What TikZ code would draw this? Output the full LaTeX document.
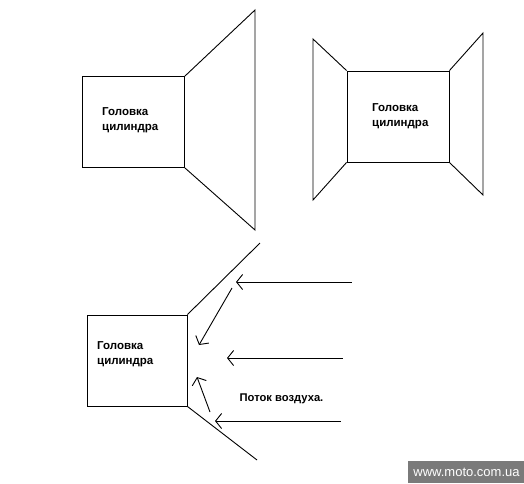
\documentclass[tikz,border=0pt]{standalone}
\usepackage{fontspec}
\setmainfont{Liberation Sans}
\usetikzlibrary{arrows.meta, positioning}
\definecolor{markgray}{HTML}{7A7A7A}
\tikzset{
    headbox/.style={
        rectangle, draw=black, line width=0.9pt, minimum width=102pt, minimum height=91pt
    },
    headtext/.style={
        font=\fontsize{11.5}{14.5}\selectfont\bfseries, align=left, anchor=west, inner sep=0pt
    },
    wall/.style={
        draw=black, line width=0.9pt
    },
    flow/.style={
        {Straight Barb[length=6pt, width=15pt]}-, line width=0.9pt
    }
}

\begin{document}
\begin{tikzpicture}[x=1pt, y=-1pt]
    \useasboundingbox (0,0) rectangle (524,483);

    % upper left: head with a widening cowl
    \node[headbox] (h1) at (133.5,122) {};
    \node[headtext] (t1) at (102,120) {Головка\\цилиндра};
    \coordinate (c1a) at (255,10);
    \coordinate (c1b) at (255,230);
    \draw[wall] (h1.north east) -- (c1a) -- (c1b) -- (h1.south east);

    % upper right: head between two cowls
    \node[headbox] (h2) at (398,116.5) {};
    \node[headtext] (t2) at (372,116) {Головка\\цилиндра};
    \coordinate (c2a) at (313,39);
    \coordinate (c2b) at (313,200);
    \coordinate (c2c) at (483,33);
    \coordinate (c2d) at (483,195);
    \draw[wall] (h2.north west) -- (c2a) -- (c2b) -- (h2.south west);
    \draw[wall] (h2.north east) -- (c2c) -- (c2d) -- (h2.south east);

    % lower: head in the air stream
    \node[headbox, minimum width=100pt] (h3) at (137,360.5) {};
    \node[headtext] (t3) at (97,354) {Головка\\цилиндра};
    \coordinate (c3a) at (260,243);
    \coordinate (c3b) at (257,460);
    \draw[wall] (h3.north east) -- (c3a);
    \draw[wall] (h3.south east) -- (c3b);

    \coordinate (a1s) at (352,282);  \coordinate (a1e) at (236,282);
    \coordinate (a2s) at (232,288);  \coordinate (a2e) at (199,345);
    \coordinate (a3s) at (343,358);  \coordinate (a3e) at (227,358);
    \coordinate (a4s) at (210,412);  \coordinate (a4e) at (197,377);
    \coordinate (a5s) at (341,421);  \coordinate (a5e) at (215,421);
    \draw[flow] (a1e) -- (a1s);
    \draw[flow] (a2e) -- (a2s);
    \draw[flow] (a3e) -- (a3s);
    \draw[flow] (a4e) -- (a4s);
    \draw[flow] (a5e) -- (a5s);

    \node[font=\fontsize{11.2}{13}\selectfont\bfseries] (air) at (281.5,399) {Поток воздуха.};

    % site mark
    \fill[markgray] (408,461) rectangle (524,483);
    \node[text=white, font=\fontsize{13}{14}\selectfont] (site) at (466.5,472) {www.moto.com.ua};
\end{tikzpicture}
\end{document}
